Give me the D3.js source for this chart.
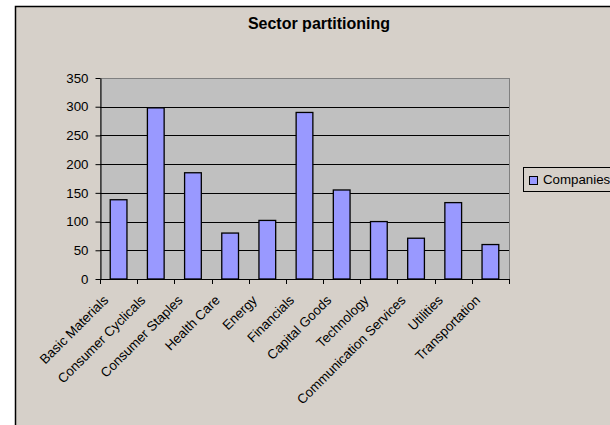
<!DOCTYPE html>
<html>
<head>
<meta charset="utf-8">
<script src="https://cdn.jsdelivr.net/npm/d3@7"></script>
<style>
  html, body { margin: 0; padding: 0; background: #ffffff; }
  svg { display: block; }
  text { font-family: "Liberation Sans", Arial, sans-serif; fill: #000; }
</style>
</head>
<body>
<svg id="chart" width="610" height="425"></svg>
<script>
// Number of companies per sector
const sectors = [
  "Basic Materials", "Consumer Cyclicals", "Consumer Staples", "Health Care",
  "Energy", "Financials", "Capital Goods", "Technology",
  "Communication Services", "Utilities", "Transportation"
];
const companies = [138, 298, 185, 80, 102, 290, 155, 100, 71, 133, 60];
const yTicks = [0, 50, 100, 150, 200, 250, 300, 350];
const seriesName = "Companies";
const chartTitle = "Sector partitioning";

const svg = d3.select("#chart");

// Chart area background and frame
svg.append("rect")
  .attr("x", 15.5).attr("y", 6.5)
  .attr("width", 620).attr("height", 430)
  .attr("fill", "#d6d0c9")
  .attr("stroke", "#000").attr("stroke-width", 1.5);

const plot = { left: 100, top: 78, right: 509, bottom: 279 };

const x = d3.scaleBand()
  .domain(sectors)
  .range([plot.left, plot.right])
  .paddingInner(0.55)
  .paddingOuter(0.275);

const band = d3.scaleBand().domain(sectors).range([plot.left, plot.right]);

const y = d3.scaleLinear()
  .domain([0, 350])
  .range([plot.bottom, plot.top]);

// Plot area
svg.append("rect")
  .attr("x", plot.left + 0.5).attr("y", plot.top + 0.5)
  .attr("width", plot.right - plot.left).attr("height", plot.bottom - plot.top)
  .attr("fill", "#c0c0c0")
  .attr("stroke", "#808080").attr("stroke-width", 1);

// Horizontal gridlines
svg.append("g")
  .selectAll("line")
  .data(yTicks.filter(t => t > 0 && t < 350))
  .join("line")
  .attr("x1", plot.left).attr("x2", plot.right)
  .attr("y1", d => Math.round(y(d)) + 0.5).attr("y2", d => Math.round(y(d)) + 0.5)
  .attr("stroke", "#000").attr("stroke-width", 1);

// Bars
svg.append("g")
  .selectAll("rect")
  .data(sectors)
  .join("rect")
  .attr("x", d => x(d))
  .attr("y", (d, i) => y(companies[i]))
  .attr("width", x.bandwidth())
  .attr("height", (d, i) => y(0) - y(companies[i]))
  .attr("fill", "#9999ff")
  .attr("stroke", "#000").attr("stroke-width", 1.3);

// Y axis
const yAxis = svg.append("g")
  .attr("transform", `translate(${plot.left + 0.5},0)`)
  .call(d3.axisLeft(y).tickValues(yTicks).tickSize(5).tickPadding(7).tickSizeOuter(0));
yAxis.select(".domain").attr("stroke", "#000");
yAxis.selectAll(".tick line").attr("stroke", "#000");
yAxis.selectAll("text").style("font-size", "13.3px").attr("fill", "#000");

// X axis: tick marks sit between categories
const bounds = sectors.map(s => band(s)).concat([plot.right]);
const xAxisG = svg.append("g");
xAxisG.append("line")
  .attr("x1", plot.left).attr("x2", plot.right + 1)
  .attr("y1", plot.bottom + 0.5).attr("y2", plot.bottom + 0.5)
  .attr("stroke", "#000");
xAxisG.selectAll("line.tick")
  .data(bounds)
  .join("line")
  .attr("class", "tick")
  .attr("x1", d => Math.round(d) + 0.5).attr("x2", d => Math.round(d) + 0.5)
  .attr("y1", plot.bottom).attr("y2", plot.bottom + 5)
  .attr("stroke", "#000");

// Rotated category labels
xAxisG.selectAll("text")
  .data(sectors)
  .join("text")
  .attr("transform", d => `translate(${band(d) + band.bandwidth() / 2 - 9.5},${plot.bottom + 22}) rotate(-45)`)
  .attr("text-anchor", "end")
  .style("font-size", "13.3px")
  .text(d => d);

// Title
svg.append("text")
  .attr("x", 319).attr("y", 29)
  .attr("text-anchor", "middle")
  .style("font-size", "16px")
  .style("font-weight", "bold")
  .text(chartTitle);

// Legend
const legend = svg.append("g");
legend.append("rect")
  .attr("x", 523.5).attr("y", 167.5)
  .attr("width", 100).attr("height", 24)
  .attr("fill", "#d6d0c9")
  .attr("stroke", "#000").attr("stroke-width", 1);
legend.append("rect")
  .attr("x", 529.5).attr("y", 176.5)
  .attr("width", 8).attr("height", 8)
  .attr("fill", "#9999ff")
  .attr("stroke", "#000").attr("stroke-width", 1);
legend.append("text")
  .attr("x", 543).attr("y", 184)
  .style("font-size", "13.3px")
  .text(seriesName);
</script>
</body>
</html>
